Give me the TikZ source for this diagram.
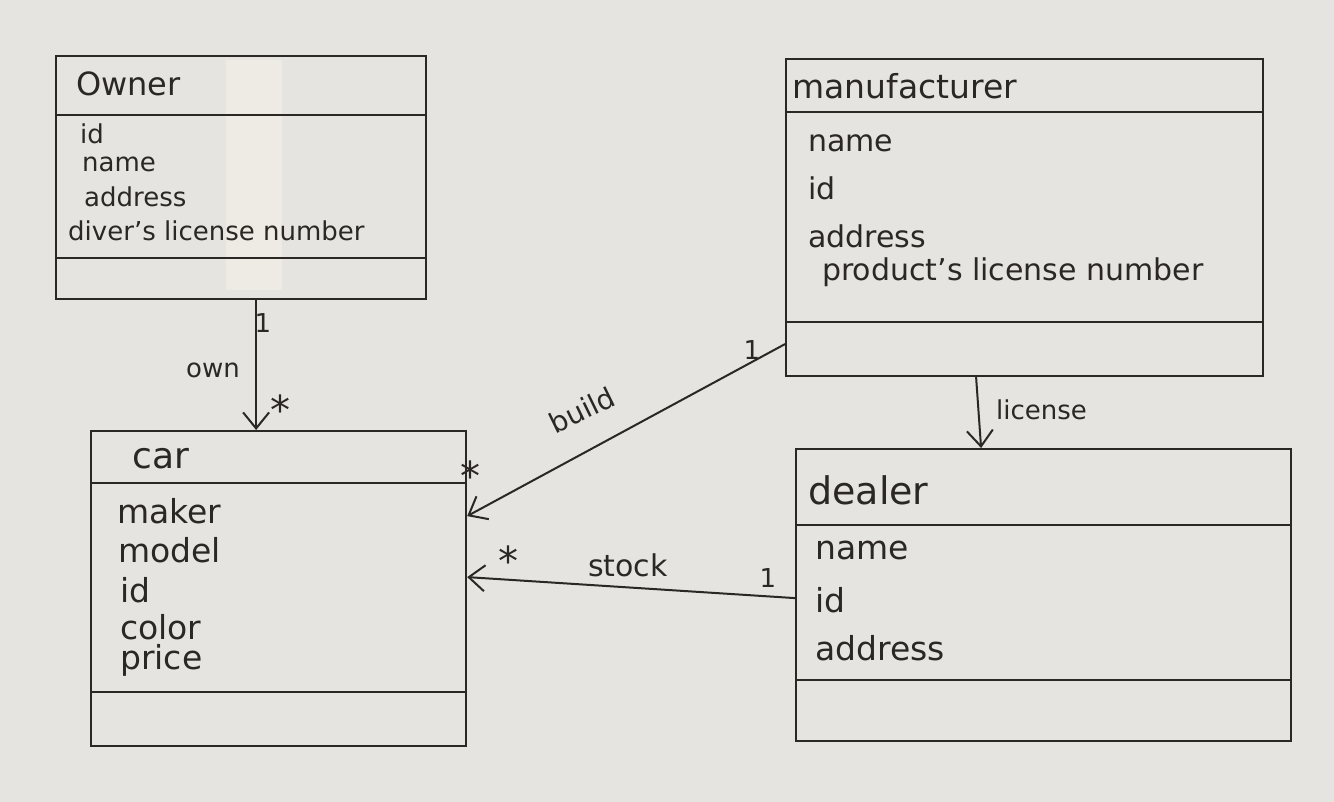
\documentclass[tikz,border=0pt]{standalone}
\usepackage{fontspec}
\setmainfont{DejaVu Sans}
\usetikzlibrary{arrows.meta,calc}
\definecolor{paper}{HTML}{E6E4E1}
\definecolor{ink}{HTML}{2B2724}
\definecolor{tape}{HTML}{EDEBE3}
\begin{document}
\begin{tikzpicture}[x=1pt,y=-1pt,
  classbox/.style={draw=ink,line width=2.2pt,anchor=north west,inner sep=0pt},
  divider/.style={draw=ink,line width=2.2pt},
  attr/.style={anchor=west,inner sep=0pt,text=ink,font=\fontsize{#1}{#1}\selectfont},
  title/.style={anchor=west,inner sep=0pt,text=ink,font=\fontsize{#1}{#1}\selectfont},
  lbl/.style={inner sep=0pt,text=ink,font=\fontsize{#1}{#1}\selectfont},
  star/.style={inner sep=0pt,text=ink,font=\fontsize{40}{40}\selectfont},
  assoc/.style={draw=ink,line width=2pt,-{Straight Barb[length=16pt,width=26pt,line width=2pt]}}]
  % paper
  \fill[paper] (0,0) rectangle (1334,802);
  \useasboundingbox (0,0) rectangle (1334,802);
  % tape strip across the Owner box
  \fill[tape] (226,60) rectangle (282,290);
  % Owner
  \node[classbox,minimum width=370pt,minimum height=243pt] (owner) at (55,55) {};
  \draw[divider] (55,115) -- (425,115);
  \draw[divider] (55,258) -- (425,258);
  \node[title=32] (ownerT) at (76,84) {Owner};
  \node[attr=26] (o1) at (80,134) {id};
  \node[attr=26] (o2) at (82,164) {name};
  \node[attr=26] (o3) at (84,197) {address};
  \node[attr=26] (o4) at (68,231) {diver's license number};
  % manufacturer
  \node[classbox,minimum width=477pt,minimum height=317pt] (manu) at (785,58) {};
  \draw[divider] (785,112) -- (1262,112);
  \draw[divider] (785,322) -- (1262,322);
  \node[title=33] (manuT) at (792,86) {manufacturer};
  \node[attr=30] (m1) at (808,143) {name};
  \node[attr=30] (m2) at (808,188) {id};
  \node[attr=30] (m3) at (808,236) {address};
  \node[attr=30] (m4) at (822,272) {product's license number};
  % car
  \node[classbox,minimum width=375pt,minimum height=315pt] (car) at (90,430) {};
  \draw[divider] (90,483) -- (465,483);
  \draw[divider] (90,692) -- (465,692);
  \node[title=36] (carT) at (132,459) {car};
  \node[attr=33] (c1) at (117,511) {maker};
  \node[attr=33] (c2) at (118,550) {model};
  \node[attr=33] (c3) at (120,590) {id};
  \node[attr=33] (c4) at (120,627) {color};
  \node[attr=33] (c5) at (120,660) {price};
  % dealer
  \node[classbox,minimum width=495pt,minimum height=292pt] (dealer) at (795,448) {};
  \draw[divider] (795,525) -- (1290,525);
  \draw[divider] (795,680) -- (1290,680);
  \node[title=38] (dealerT) at (808,490) {dealer};
  \node[attr=33] (d1) at (815,550) {name};
  \node[attr=33] (d2) at (815,600) {id};
  \node[attr=33] (d3) at (815,648) {address};
  % associations
  \draw[assoc] ([xshift=15pt]owner.south) -- ([xshift=-22.5pt]car.north);
  \draw[assoc] ([yshift=-126.5pt]manu.west) -- ([yshift=72.5pt]car.east);
  \draw[assoc] ([yshift=-3pt]dealer.west) -- ([yshift=11.5pt]car.east);
  \draw[assoc] ([xshift=-48.5pt]manu.south) -- ([xshift=-62.5pt]dealer.north);
  % multiplicities and role names
  \node[lbl=26] (ownOne) at (263,323) {1};
  \node[lbl=26,anchor=east] (ownL) at (240,370) {own};
  \node[star] (ownMany) at (280,410) {*};
  \node[lbl=26] (buildOne) at (752,350) {1};
  \node[lbl=28,rotate=26] (buildL) at (582,410) {build};
  \node[star] (buildMany) at (470,476) {*};
  \node[lbl=26] (stockOne) at (768,578) {1};
  \node[lbl=30] (stockL) at (628,565) {stock};
  \node[star] (stockMany) at (508,561) {*};
  \node[lbl=26,anchor=west] (licL) at (996,410) {license};
\end{tikzpicture}
\end{document}
